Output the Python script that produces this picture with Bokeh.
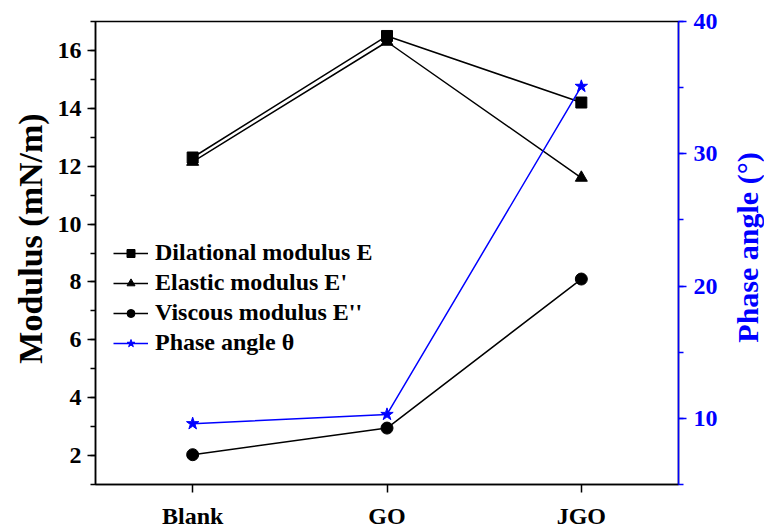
import math
from bokeh.plotting import figure
from bokeh.models import (Range1d, LinearAxis, SingleIntervalTicker, Legend, LegendItem,
                          FactorRange, Label)
from bokeh.layouts import row
from bokeh.embed import file_html
from bokeh.resources import INLINE

samples = ["Blank", "GO", "JGO"]
dilational = [12.3, 16.5, 14.2]
elastic = [12.15, 16.3, 11.6]
viscous = [2.03, 2.95, 8.1]
phase = [9.6, 10.3, 35.1]

FONT = "'Liberation Serif', 'Times New Roman', serif"
BLUE = "#0000ff"
LEFT_W, RIGHT_W, H = 52, 44, 531

p = figure(width=764 - LEFT_W - RIGHT_W, height=H, x_range=FactorRange(factors=samples),
           y_range=Range1d(1, 17), output_backend="svg", toolbar_location=None,
           min_border_left=95 - LEFT_W, min_border_right=83 - RIGHT_W,
           min_border_top=21, min_border_bottom=45)
p.extra_y_ranges = {"phase": Range1d(5, 40)}
p.xgrid.visible = False
p.ygrid.visible = False
p.outline_line_color = "black"
p.outline_line_width = 1.5
p.background_fill_color = "white"
p.border_fill_color = "white"

r1l = p.line(samples, dilational, color="black", line_width=1.5)
r1s = p.scatter(samples, dilational, marker="square", size=11, color="black")
r2l = p.line(samples, elastic, color="black", line_width=1.5)
r2s = p.scatter(samples, elastic, marker="triangle", size=12, color="black")
r3l = p.line(samples, viscous, color="black", line_width=1.5)
r3s = p.scatter(samples, viscous, marker="circle", size=12, color="black")
r4l = p.line(samples, phase, color=BLUE, line_width=1.5, y_range_name="phase")
r4s = p.scatter(samples, phase, marker="star", size=13, color=BLUE, y_range_name="phase")

def style_axis(ax, color):
    ax.axis_line_color = color
    ax.axis_line_width = 1.5
    ax.major_tick_line_color = color
    ax.major_tick_line_width = 1.5
    ax.major_tick_out = 8
    ax.major_tick_in = 0
    ax.minor_tick_line_color = color
    ax.minor_tick_line_width = 1.5
    ax.minor_tick_out = 5
    ax.minor_tick_in = 0
    ax.major_label_text_font = FONT
    ax.major_label_text_font_style = "bold"
    ax.major_label_text_font_size = "24px"
    ax.major_label_text_color = color

p.yaxis.ticker = SingleIntervalTicker(interval=2, num_minor_ticks=2)
style_axis(p.yaxis[0], "black")
p.yaxis.major_label_standoff = 6

style_axis(p.xaxis[0], "black")
p.xaxis.major_label_standoff = 10

ra = LinearAxis(y_range_name="phase", ticker=SingleIntervalTicker(interval=10, num_minor_ticks=2))
style_axis(ra, BLUE)
ra.major_label_standoff = 7
p.add_layout(ra, "right")

legend = Legend(items=[
    LegendItem(label="Dilational modulus E", renderers=[r1l, r1s]),
    LegendItem(label="Elastic modulus E'", renderers=[r2l, r2s]),
    LegendItem(label="Viscous modulus E''", renderers=[r3l, r3s]),
    LegendItem(label="Phase angle θ", renderers=[r4l, r4s]),
], location=(18, 128))
legend.border_line_color = None
legend.background_fill_alpha = 0
legend.padding = 0
legend.margin = 0
legend.spacing = 3
legend.glyph_width = 35
legend.glyph_height = 20
legend.label_height = 24
legend.label_standoff = 7
legend.label_text_font = FONT
legend.label_text_font_style = "bold"
legend.label_text_font_size = "24px"
legend.label_text_color = "black"
p.add_layout(legend, "center")

def title_panel(width, text, x, y, size, color):
    f = figure(width=width, height=H, output_backend="svg", toolbar_location=None,
               min_border=0, x_range=Range1d(0, 1), y_range=Range1d(0, 1))
    f.axis.visible = False
    f.grid.visible = False
    f.outline_line_color = None
    f.background_fill_color = "white"
    f.border_fill_color = "white"
    f.add_layout(Label(x=x, y=y, x_units="screen", y_units="screen", text=text,
                       angle=math.pi / 2, text_align="center", text_baseline="middle",
                       text_font=FONT, text_font_style="bold", text_font_size=size,
                       text_color=color))
    return f

# frames are aligned with the main plot frame (bottom at 486 px)
left_panel = title_panel(LEFT_W, "Modulus (mN/m)", 30, 486 - 240, "34px", "black")
right_panel = title_panel(RIGHT_W, "Phase angle (°)", 27, 486 - 249, "30px", BLUE)

layout = row(left_panel, p, right_panel, spacing=0)
open("out.html", "w").write(file_html(layout, INLINE))
